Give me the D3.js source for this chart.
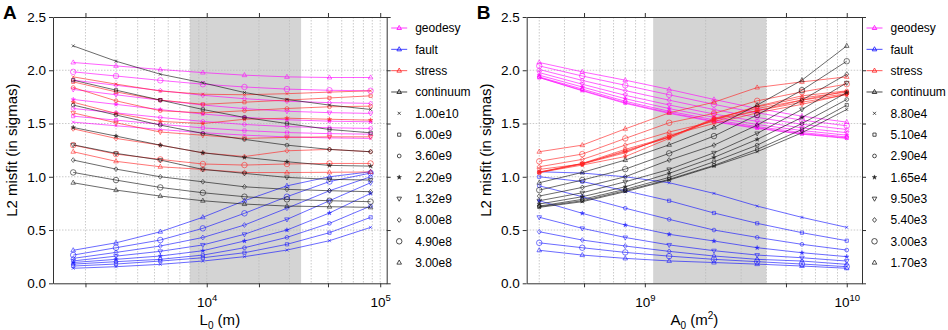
<!DOCTYPE html>
<html>
<head>
<meta charset="utf-8">
<script src="https://cdn.jsdelivr.net/npm/d3@7"></script>
<style>
  body { margin: 0; background: #fff; }
  svg text { font-family: "Liberation Sans", Arial, sans-serif; fill: #000; }
</style>
</head>
<body>
<div id="chart"></div>
<script>
// grid of runs: rows = A0 (area scale), columns = L0 (length scale)
const L0 = [1700, 3000, 5400, 9500, 16500, 29000, 51000, 88000];
const A0 = [3e8, 4.9e8, 8e8, 1.32e9, 2.2e9, 3.6e9, 6e9, 1e10];
const L0Labels = ['1.70e3', '3.00e3', '5.40e3', '9.50e3', '1.65e4', '2.90e4', '5.10e4', '8.80e4'];
const A0Labels = ['3.00e8', '4.90e8', '8.00e8', '1.32e9', '2.20e9', '3.60e9', '6.00e9', '1.00e10'];

const geodesy = [
  [2.073, 2.041, 2.007, 1.978, 1.954, 1.938, 1.932, 1.932],
  [1.985, 1.946, 1.905, 1.869, 1.843, 1.823, 1.812, 1.807],
  [1.907, 1.859, 1.809, 1.765, 1.733, 1.709, 1.696, 1.689],
  [1.820, 1.770, 1.719, 1.674, 1.640, 1.615, 1.602, 1.595],
  [1.726, 1.680, 1.631, 1.589, 1.558, 1.535, 1.522, 1.516],
  [1.641, 1.600, 1.557, 1.520, 1.491, 1.471, 1.460, 1.454],
  [1.569, 1.532, 1.493, 1.459, 1.434, 1.415, 1.405, 1.400],
  [1.513, 1.479, 1.444, 1.414, 1.391, 1.374, 1.365, 1.360]
];
const fault = [
  [0.310, 0.380, 0.484, 0.620, 0.775, 0.915, 1.000, 1.047],
  [0.265, 0.334, 0.406, 0.516, 0.657, 0.813, 0.955, 1.035],
  [0.234, 0.290, 0.350, 0.430, 0.547, 0.705, 0.869, 1.000],
  [0.210, 0.255, 0.300, 0.360, 0.460, 0.600, 0.775, 0.944],
  [0.195, 0.225, 0.256, 0.306, 0.397, 0.500, 0.660, 0.844],
  [0.180, 0.203, 0.225, 0.265, 0.334, 0.431, 0.563, 0.725],
  [0.162, 0.181, 0.209, 0.240, 0.287, 0.366, 0.475, 0.619],
  [0.141, 0.156, 0.178, 0.209, 0.250, 0.312, 0.400, 0.525]
];
const stress = [
  [1.235, 1.145, 1.094, 1.069, 1.040, 1.040, 1.042, 1.045],
  [1.297, 1.213, 1.163, 1.120, 1.110, 1.120, 1.125, 1.125],
  [1.450, 1.360, 1.297, 1.225, 1.190, 1.244, 1.257, 1.235],
  [1.600, 1.507, 1.420, 1.390, 1.360, 1.370, 1.375, 1.375],
  [1.700, 1.595, 1.520, 1.500, 1.540, 1.550, 1.540, 1.532],
  [1.838, 1.713, 1.620, 1.600, 1.620, 1.641, 1.657, 1.663],
  [1.891, 1.797, 1.720, 1.680, 1.700, 1.720, 1.740, 1.760],
  [1.938, 1.870, 1.805, 1.775, 1.770, 1.780, 1.795, 1.807]
];
const continuum = [
  [0.944, 0.875, 0.819, 0.775, 0.744, 0.725, 0.719, 0.713],
  [1.041, 0.969, 0.900, 0.850, 0.813, 0.788, 0.775, 0.766],
  [1.157, 1.072, 1.000, 0.953, 0.906, 0.882, 0.869, 0.860],
  [1.300, 1.220, 1.157, 1.069, 1.032, 0.994, 0.976, 0.969],
  [1.463, 1.382, 1.297, 1.225, 1.182, 1.141, 1.107, 1.100],
  [1.673, 1.580, 1.485, 1.407, 1.351, 1.297, 1.257, 1.235],
  [1.907, 1.813, 1.720, 1.632, 1.557, 1.500, 1.444, 1.413],
  [2.229, 2.085, 1.963, 1.882, 1.791, 1.726, 1.673, 1.632]
];

const familyNames = ['geodesy', 'fault', 'stress', 'continuum'];
const familyColors = ['#ff00ff', '#1010ff', '#ff2020', '#101010'];
const yTicks = [0, 0.5, 1, 1.5, 2, 2.5];
const xTicksA = [2e3, 1e4, 2e4, 5e4, 1e5];
const xTicksB = [5e8, 1e9, 5e9, 1e10];
const bandA = [8000, 35000];
const bandB = [1.1e9, 4e9];

const W = 948, H = 330;
const svg = d3.select('#chart').append('svg')
  .attr('width', W)
  .attr('height', H);

const yScale = d3.scaleLinear().domain([0, 2.5]).range([283.3, 17]);

// one marker shape per series index (smallest value -> triangle, largest -> x)
function markerPath(i) {
  switch (i) {
    case 0: return 'M0,-2.6L2.3,1.5L-2.3,1.5Z';
    case 1: return d3.symbol(d3.symbolCircle, 24)();
    case 2: return 'M0,-2.4L2,0L0,2.4L-2,0Z';
    case 3: return 'M0,2.6L2.3,-1.5L-2.3,-1.5Z';
    case 4: return d3.symbol(d3.symbolStar, 6.5)();
    case 5: return d3.symbol(d3.symbolCircle, 11)();
    case 6: return 'M-1.6,-1.6H1.6V1.6H-1.6Z';
    default: return 'M-1.5,-1.5L1.5,1.5M-1.5,1.5L1.5,-1.5';
  }
}

function drawPanel(opts) {
  const { left, right, domain, xTicks, band, letter, xLabel, xSub, xUnitSup,
          seriesLabels, xValues, getSeries } = opts;
  const x = d3.scaleLog().domain(domain).range([left, right]);
  const g = svg.append('g');
  const top = yScale(2.5), bottom = yScale(0);

  g.append('rect')
    .attr('x', x(band[0])).attr('y', top)
    .attr('width', x(band[1]) - x(band[0])).attr('height', bottom - top)
    .attr('fill', '#d4d4d4');

  // dotted grid: every integer multiple on x, every tick on y
  const minors = [];
  for (let e = Math.floor(Math.log10(domain[0])); e <= Math.ceil(Math.log10(domain[1])); e++) {
    for (let k = 1; k <= 9; k++) {
      const v = k * Math.pow(10, e);
      if (v > domain[0] && v < domain[1]) minors.push(v);
    }
  }
  g.selectAll('.vgrid').data(minors).enter().append('line')
    .attr('x1', d => x(d)).attr('x2', d => x(d))
    .attr('y1', top).attr('y2', bottom)
    .attr('stroke', '#bdbdbd').attr('stroke-width', 0.8)
    .attr('stroke-dasharray', '1.5,1.5');
  g.selectAll('.hgrid').data(yTicks.slice(1, -1)).enter().append('line')
    .attr('x1', left).attr('x2', right)
    .attr('y1', d => yScale(d)).attr('y2', d => yScale(d))
    .attr('stroke', '#bdbdbd').attr('stroke-width', 0.8)
    .attr('stroke-dasharray', '1.5,1.5');

  const line = d3.line().x(d => x(d[0])).y(d => yScale(d[1]));

  familyNames.forEach((fam, fi) => {
    const series = getSeries(fi);
    const fg = g.append('g');
    series.forEach((vals, si) => {
      const pts = xValues.map((xv, k) => [xv, vals[k]]);
      fg.append('path')
        .attr('d', line(pts))
        .attr('fill', 'none')
        .attr('stroke', familyColors[fi])
        .attr('stroke-opacity', 0.62)
        .attr('stroke-width', 1);
      fg.selectAll(null).data(pts).enter().append('path')
        .attr('transform', d => `translate(${x(d[0])},${yScale(d[1])})`)
        .attr('d', markerPath(si))
        .attr('fill', si === 4 ? familyColors[fi] : 'none')
        .attr('fill-opacity', 0.7)
        .attr('stroke', familyColors[fi])
        .attr('stroke-opacity', 0.7)
        .attr('stroke-width', si === 4 ? 0.4 : 0.8);
    });
  });

  // axes on all four sides, ticks pointing out
  const axisColor = '#333';
  const bottomAxis = g.append('g')
    .attr('transform', `translate(0,${bottom})`)
    .call(d3.axisBottom(x).tickValues(xTicks).tickSize(4).tickSizeOuter(0).tickFormat(''));
  g.append('g')
    .attr('transform', `translate(0,${top})`)
    .call(d3.axisTop(x).tickValues(xTicks).tickSize(4).tickSizeOuter(0).tickFormat(''));
  g.append('g')
    .attr('transform', `translate(${left},0)`)
    .call(d3.axisLeft(yScale).tickValues(yTicks).tickSize(4).tickSizeOuter(0)
      .tickFormat(d3.format('.1f')))
    .selectAll('text').style('font-size', '13.5px');
  g.append('g')
    .attr('transform', `translate(${right},0)`)
    .call(d3.axisRight(yScale).tickValues(yTicks).tickSize(4).tickSizeOuter(0).tickFormat(''));
  g.selectAll('.domain').attr('stroke', axisColor);
  g.selectAll('.tick line').attr('stroke', axisColor);

  // power-of-ten labels only
  bottomAxis.selectAll('.tick').each(function (d) {
    const e = Math.log10(d);
    if (Math.abs(e - Math.round(e)) > 1e-9) return;
    const t = d3.select(this).append('text')
      .attr('y', 24).attr('text-anchor', 'middle').style('font-size', '13.5px');
    t.append('tspan').text('10');
    t.append('tspan').attr('dy', -6).style('font-size', '9.5px').text(Math.round(e));
  });

  // axis titles
  const xl = g.append('text')
    .attr('x', (left + right) / 2).attr('y', 325)
    .attr('text-anchor', 'middle').style('font-size', '15px');
  xl.append('tspan').text(xLabel);
  xl.append('tspan').attr('dy', 4).style('font-size', '10px').text(xSub);
  xl.append('tspan').attr('dy', -4).text(' (m');
  if (xUnitSup) xl.append('tspan').attr('dy', -6).style('font-size', '10px').text(xUnitSup);
  xl.append('tspan').attr('dy', xUnitSup ? 6 : 0).text(')');

  g.append('text')
    .attr('transform', `translate(${left - 36},${(top + bottom) / 2}) rotate(-90)`)
    .attr('text-anchor', 'middle').style('font-size', '15px')
    .text('L2 misfit (in sigmas)');

  g.append('text')
    .attr('x', left - 50).attr('y', 19)
    .style('font-size', '19px').style('font-weight', 'bold')
    .text(letter);

  // legend
  const lx = right + 12.5, rowH = 21.33, row0 = 28;
  const lg = g.append('g');
  familyNames.forEach((fam, fi) => {
    const cy = row0 + fi * rowH;
    lg.append('line')
      .attr('x1', lx - 8).attr('x2', lx + 8).attr('y1', cy).attr('y2', cy)
      .attr('stroke', familyColors[fi]).attr('stroke-opacity', 0.75);
    lg.append('path')
      .attr('transform', `translate(${lx},${cy})`)
      .attr('d', markerPath(0))
      .attr('fill', 'none').attr('stroke', familyColors[fi]).attr('stroke-width', 0.8);
    lg.append('text').attr('x', lx + 16).attr('y', cy).attr('dy', '0.35em')
      .style('font-size', '12px').text(fam);
  });
  d3.range(7, -1, -1).forEach((si, k) => {
    const cy = row0 + (4 + k) * rowH;
    lg.append('path')
      .attr('transform', `translate(${lx},${cy})`)
      .attr('d', markerPath(si))
      .attr('fill', si === 4 ? '#222' : 'none')
      .attr('stroke', '#222').attr('stroke-width', si === 4 ? 0.4 : 0.8);
    lg.append('text').attr('x', lx + 16).attr('y', cy).attr('dy', '0.35em')
      .style('font-size', '12px').text(seriesLabels[si]);
  });
}

const dataByFamily = [geodesy, fault, stress, continuum];

// panel A: one line per A0, across L0
drawPanel({
  left: 53, right: 386.7, domain: [1300, 1.09e5],
  xTicks: xTicksA, band: bandA, letter: 'A',
  xLabel: 'L', xSub: '0', xUnitSup: null,
  seriesLabels: A0Labels, xValues: L0,
  getSeries: fi => dataByFamily[fi]
});

// panel B: one line per L0, across A0
drawPanel({
  left: 526.7, right: 862, domain: [2.6e8, 1.19e10],
  xTicks: xTicksB, band: bandB, letter: 'B',
  xLabel: 'A', xSub: '0', xUnitSup: '2',
  seriesLabels: L0Labels, xValues: A0,
  getSeries: fi => L0.map((_, j) => dataByFamily[fi].map(row => row[j]))
});
</script>
</body>
</html>
